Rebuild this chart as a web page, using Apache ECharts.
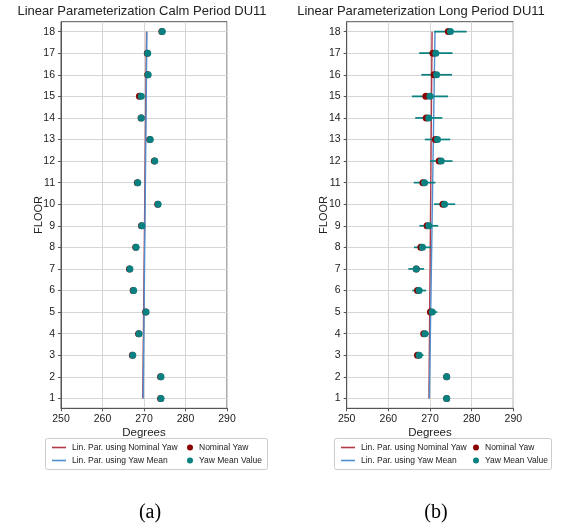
<!DOCTYPE html>
<html>
<head>
<meta charset="utf-8">
<script src="https://cdn.jsdelivr.net/npm/echarts@6/dist/echarts.min.js"></script>
<style>
html,body{margin:0;padding:0;background:#fff;}
#chart{width:565px;height:531px;}
</style>
</head>
<body>
<div id="chart"></div>
<script>
// ---- data ----
const floors = [1,2,3,4,5,6,7,8,9,10,11,12,13,14,15,16,17,18];
const xTicks = [250,260,270,280,290];
const titles = ['Linear Parameterization Calm Period DU11','Linear Parameterization Long Period DU11'];
const captions = ['(a)','(b)'];
// Calm period (a)
const calmNominal = [274.0,274.0,267.2,268.7,270.4,267.4,266.5,268.0,269.4,273.3,268.4,272.5,271.4,269.3,268.9,270.9,270.8,274.3];
const calmMean    = [274.1,274.1,267.3,268.8,270.5,267.5,266.6,268.1,269.5,273.4,268.5,272.6,271.5,269.35,269.35,271.0,270.9,274.4];
const lineFloors = [1,18];
const calmNomLineX = [269.7,270.6];
const calmMeanLineX = [269.8,270.7];
// Long period (b)
const longNominal = [274.0,274.0,267.0,268.5,270.1,267.0,266.7,267.8,269.3,273.1,268.3,272.2,271.3,269.1,269.0,271.0,270.7,274.4];
const longMean    = [274.0,274.0,267.4,268.8,270.55,267.4,266.7,268.2,269.7,273.5,268.7,272.7,271.8,269.7,270.0,271.6,271.4,274.9];
const longErr     = [0.7,0.8,1.05,1.0,1.2,1.65,1.9,2.05,2.25,2.55,2.6,2.7,3.05,3.25,4.35,3.7,4.0,3.9];
const longNomLineX = [269.75,270.5];
const longMeanLineX = [269.85,271.2];

const names = ['Lin. Par. using Nominal Yaw','Lin. Par. using Yaw Mean','Nominal Yaw','Yaw Mean Value'];
const RED_LINE = '#b03a48', BLUE_LINE = '#4f8fcf', RED_DOT = '#8b0000', TEAL = '#0a8080';
const FONT = '"Liberation Sans",Arial,sans-serif';

const pair = (xs, ys) => xs.map((x,i)=>[x, ys[i]]);

const chart = echarts.init(document.getElementById('chart'), null, {renderer:'canvas'});

const grids = [
  {left:61, top:21.7, width:166, height:386.6, show:true, borderColor:'#555', borderWidth:1},
  {left:346.7, top:21.7, width:166.6, height:386.6, show:true, borderColor:'#555', borderWidth:1}
];

function xAxis(gi){
  return {type:'value', gridIndex:gi, min:xTicks[0], max:xTicks[xTicks.length-1], interval:10,
    name:'Degrees', nameLocation:'middle', nameGap:19, nameMoveOverlap:false,
    nameTextStyle:{fontFamily:FONT, fontSize:11.5, color:'#222'},
    axisLine:{show:true, lineStyle:{color:'#555'}},
    axisTick:{show:true, inside:false, length:3, lineStyle:{color:'#555'}},
    axisLabel:{fontFamily:FONT, fontSize:10.5, color:'#222', margin:5},
    splitLine:{show:true, lineStyle:{color:'#d6d6d6', width:1}}
  };
}
function yAxis(gi){
  return {type:'value', gridIndex:gi, min:0.54, max:18.46,
    name:'FLOOR', nameLocation:'middle', nameGap:17, nameMoveOverlap:false,
    nameTextStyle:{fontFamily:FONT, fontSize:11, color:'#222'},
    axisLine:{show:true, lineStyle:{color:'#555'}},
    axisTick:{show:true, inside:false, length:3, customValues:floors, lineStyle:{color:'#555'}},
    axisLabel:{fontFamily:FONT, fontSize:10.5, color:'#222', margin:6, customValues:floors},
    splitLine:{show:true, lineStyle:{color:'#d6d6d6', width:1}}
  };
}

function errRender(params, api){
  const x = api.value(0), y = api.value(1), e = api.value(2);
  const p1 = api.coord([x-e, y]), p2 = api.coord([x+e, y]);
  return {type:'line', shape:{x1:p1[0], y1:p1[1], x2:p2[0], y2:p2[1]},
    style:{stroke:TEAL, lineWidth:1.7}};
}

const series = [
  // (a)
  {name:names[0], type:'line', xAxisIndex:0, yAxisIndex:0, symbol:'none', lineStyle:{color:RED_LINE, width:1.4}, itemStyle:{color:RED_LINE},
    data: pair(calmNomLineX, lineFloors), z:2},
  {name:names[1], type:'line', xAxisIndex:0, yAxisIndex:0, symbol:'none', lineStyle:{color:BLUE_LINE, width:1.4}, itemStyle:{color:BLUE_LINE},
    data: pair(calmMeanLineX, lineFloors), z:3},
  {name:names[2], type:'scatter', xAxisIndex:0, yAxisIndex:0, symbolSize:7, itemStyle:{color:RED_DOT, opacity:1},
    data: pair(calmNominal, floors), z:4},
  {name:names[3], type:'scatter', xAxisIndex:0, yAxisIndex:0, symbolSize:7, itemStyle:{color:TEAL, opacity:1},
    data: pair(calmMean, floors), z:5},
  // (b)
  {name:names[0], type:'line', xAxisIndex:1, yAxisIndex:1, symbol:'none', lineStyle:{color:RED_LINE, width:1.4}, itemStyle:{color:RED_LINE},
    data: pair(longNomLineX, lineFloors), z:2},
  {name:names[1], type:'line', xAxisIndex:1, yAxisIndex:1, symbol:'none', lineStyle:{color:BLUE_LINE, width:1.4}, itemStyle:{color:BLUE_LINE},
    data: pair(longMeanLineX, lineFloors), z:3},
  {name:'err', type:'custom', xAxisIndex:1, yAxisIndex:1, renderItem:errRender,
    data: longMean.map((m,i)=>[m, floors[i], longErr[i]]), z:4, silent:true},
  {name:names[2], type:'scatter', xAxisIndex:1, yAxisIndex:1, symbolSize:7, itemStyle:{color:RED_DOT, opacity:1},
    data: pair(longNominal, floors), z:5},
  {name:names[3], type:'scatter', xAxisIndex:1, yAxisIndex:1, symbolSize:7, itemStyle:{color:TEAL, opacity:1},
    data: pair(longMean, floors), z:6}
];

function legend(left, data, isLine){
  return {orient:'vertical', left:left, top:443, itemGap:4,
    itemWidth: isLine ? 14 : 6, itemHeight: isLine ? 1.6 : 6,
    icon: isLine ? 'rect' : 'circle',
    selectedMode:false, padding:0,
    textStyle:{fontFamily:FONT, fontSize:8.5, color:'#222', padding:[0,0,0,1]},
    data:data};
}

const legends = [
  legend(52, [names[0], names[1]], true),
  legend(187, [names[2], names[3]], false),
  legend(341, [names[0], names[1]], true),
  legend(473, [names[2], names[3]], false)
];

const graphic = [
  {type:'rect', shape:{x:45.5, y:438.5, width:222, height:31, r:2}, style:{fill:'#fff', stroke:'#cccccc', lineWidth:1}, z:-1},
  {type:'rect', shape:{x:334.5, y:438.5, width:217, height:31, r:2}, style:{fill:'#fff', stroke:'#cccccc', lineWidth:1}, z:-1},
  {type:'text', x:142, y:11, style:{text:titles[0], textAlign:'center', textVerticalAlign:'middle', font:'13px "Liberation Sans", sans-serif', fill:'#222'}},
  {type:'text', x:421, y:11, style:{text:titles[1], textAlign:'center', textVerticalAlign:'middle', font:'13px "Liberation Sans", sans-serif', fill:'#222'}},
  {type:'text', x:150, y:513, style:{text:captions[0], textAlign:'center', textVerticalAlign:'middle', font:'20px "Liberation Serif", serif', fill:'#000'}},
  {type:'text', x:436, y:513, style:{text:captions[1], textAlign:'center', textVerticalAlign:'middle', font:'20px "Liberation Serif", serif', fill:'#000'}}
];

chart.setOption({
  animation:false,
  backgroundColor:'#fff',
  grid:grids,
  xAxis:[xAxis(0), xAxis(1)],
  yAxis:[yAxis(0), yAxis(1)],
  legend:legends,
  graphic:graphic,
  series:series
});
</script>
</body>
</html>
